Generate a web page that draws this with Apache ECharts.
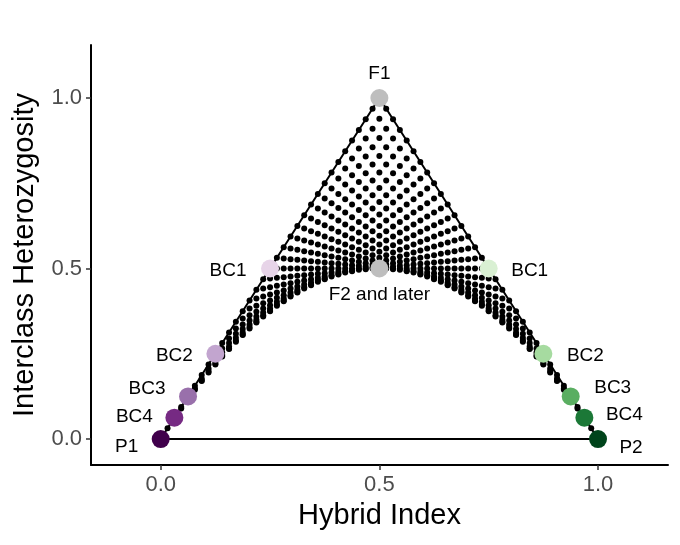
<!DOCTYPE html>
<html>
<head>
<meta charset="utf-8">
<script src="https://cdn.jsdelivr.net/npm/echarts@6.0.0/dist/echarts.min.js"></script>
<style>
html,body{margin:0;padding:0;background:#fff;}
#chart{width:680px;height:545px;}
</style>
</head>
<body>
<div id="chart"></div>
<script>
// Parental ancestry levels (fraction of P2 ancestry in each parent), step read from the dot lattice
var parentLevels = [0, 0.03125, 0.0625, 0.09375, 0.125, 0.15625, 0.1875, 0.21875, 0.25,
  0.28125, 0.3125, 0.34375, 0.375, 0.40625, 0.4375, 0.46875, 0.5,
  0.53125, 0.5625, 0.59375, 0.625, 0.65625, 0.6875, 0.71875, 0.75,
  0.78125, 0.8125, 0.84375, 0.875, 0.90625, 0.9375, 0.96875, 1];

// Named hybrid classes
var classNames = ['P1', 'BC4', 'BC3', 'BC2', 'BC1', 'F1', 'F2 and later', 'BC1', 'BC2', 'BC3', 'BC4', 'P2'];
var classHybridIndex = [0, 0.03125, 0.0625, 0.125, 0.25, 0.5, 0.5, 0.75, 0.875, 0.9375, 0.96875, 1];
var classHeterozygosity = [0, 0.0625, 0.125, 0.25, 0.5, 1, 0.5, 0.5, 0.25, 0.125, 0.0625, 0];
var classColors = ['#40004b', '#762a83', '#9970ab', '#c2a5cf', '#e7d4e8', '#bebebe', '#bebebe',
  '#d9f0d3', '#a6dba0', '#5aae61', '#1b7837', '#00441b'];

// Triangle outline vertices
var outlineX = [0, 0.5, 1, 0];
var outlineY = [0, 1, 0, 0];

// Tick labels
var tickValues = [0, 0.5, 1];

// Offspring of every pair of parents: hybrid index and interclass heterozygosity
var dots = [];
for (var i = 0; i < parentLevels.length; i++) {
  for (var j = i; j < parentLevels.length; j++) {
    var p = parentLevels[i], q = parentLevels[j];
    dots.push([(p + q) / 2, p * (1 - q) + q * (1 - p)]);
  }
}

var labelOffsets = [[-34, 8], [-40, -1], [-41, -8], [-41, 2], [-42, 2], [0, -24], [0, 26],
  [41, 2], [42, 2], [42, -9], [40, -3], [33, 9]];

var classData = classNames.map(function (n, k) {
  return {
    value: [classHybridIndex[k], classHeterozygosity[k]],
    name: n,
    itemStyle: { color: classColors[k] },
    label: { offset: labelOffsets[k] }
  };
});

var outline = outlineX.map(function (x, k) { return [x, outlineY[k]]; });

var font = 'Liberation Sans, Arial, Helvetica, sans-serif';
var chart = echarts.init(document.getElementById('chart'), null, { renderer: 'canvas' });
chart.setOption({
  animation: false,
  backgroundColor: '#ffffff',
  grid: { left: 91, right: 12, top: 45, bottom: 80 },
  xAxis: {
    type: 'value',
    min: -0.1594, max: 1.160,
    name: 'Hybrid Index',
    nameLocation: 'middle',
    nameGap: 36,
    nameTextStyle: { fontFamily: font, fontSize: 29, color: '#000' },
    axisLine: { show: true, onZero: false, lineStyle: { color: '#000', width: 2 } },
    axisTick: { show: true, length: 5, customValues: tickValues, lineStyle: { color: '#333', width: 1.5 } },
    axisLabel: { customValues: tickValues, margin: 9, fontFamily: font, fontSize: 22, color: '#4d4d4d',
      formatter: function (v) { return v.toFixed(1); } },
    splitLine: { show: false }
  },
  yAxis: {
    type: 'value',
    min: -0.0762, max: 1.1554,
    name: 'Interclass Heterozygosity',
    nameLocation: 'middle',
    nameGap: 52,
    nameRotate: 90,
    nameTextStyle: { fontFamily: font, fontSize: 29, color: '#000' },
    axisLine: { show: true, onZero: false, lineStyle: { color: '#000', width: 2 } },
    axisTick: { show: true, length: 5, customValues: tickValues, lineStyle: { color: '#333', width: 1.5 } },
    axisLabel: { customValues: tickValues, margin: 9, fontFamily: font, fontSize: 22, color: '#4d4d4d',
      formatter: function (v) { return v.toFixed(1); } },
    splitLine: { show: false }
  },
  series: [
    {
      type: 'line',
      data: outline,
      symbol: 'none',
      lineStyle: { color: '#000', width: 2 },
      z: 1
    },
    {
      type: 'scatter',
      data: dots,
      symbolSize: 6,
      itemStyle: { color: '#000', opacity: 1 },
      z: 2
    },
    {
      type: 'scatter',
      data: classData,
      symbolSize: 18,
      itemStyle: { opacity: 1 },
      label: {
        show: true,
        position: 'inside',
        align: 'center',
        verticalAlign: 'middle',
        fontFamily: font,
        fontSize: 19,
        color: '#000',
        formatter: '{b}'
      },
      z: 3
    }
  ]
});
</script>
</body>
</html>
